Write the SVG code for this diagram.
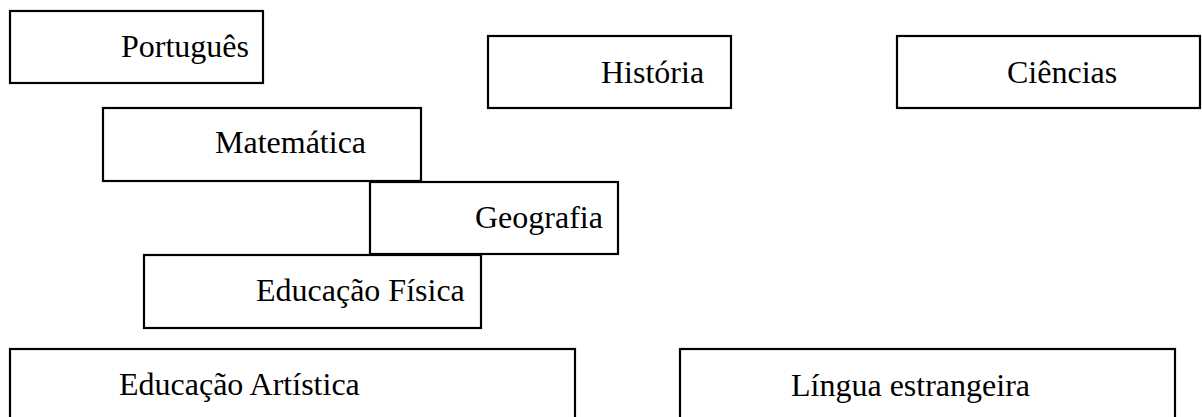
<svg xmlns="http://www.w3.org/2000/svg" width="1202" height="417" viewBox="0 0 1202 417">
<style>
.box{fill:#fff;stroke:#000;stroke-width:2.2}
.lbl{font-family:"Liberation Serif","Times New Roman",serif;font-size:32px;fill:#000}
</style>
<rect width="1202" height="417" fill="#fff"/>
<g id="portugues"><rect class="box" x="10" y="11" width="253" height="72"/><text class="lbl" x="121" y="57">Português</text></g>
<g id="historia"><rect class="box" x="488" y="36" width="243" height="72"/><text class="lbl" x="601" y="83">História</text></g>
<g id="ciencias"><rect class="box" x="897" y="36" width="303" height="72"/><text class="lbl" x="1007" y="83">Ciências</text></g>
<g id="matematica"><rect class="box" x="103" y="108" width="318" height="73"/><text class="lbl" x="215" y="153">Matemática</text></g>
<g id="geografia"><rect class="box" x="370" y="182" width="248" height="72"/><text class="lbl" x="475" y="228">Geografia</text></g>
<g id="educacao-fisica"><rect class="box" x="144" y="255" width="337" height="73"/><text class="lbl" x="256" y="301">Educação Física</text></g>
<g id="educacao-artistica"><rect class="box" x="10" y="349" width="565" height="80"/><text class="lbl" x="119" y="395">Educação Artística</text></g>
<g id="lingua-estrangeira"><rect class="box" x="680" y="349" width="495" height="80"/><text class="lbl" x="791" y="396">Língua estrangeira</text></g>
<g id="connectors"></g>
</svg>
